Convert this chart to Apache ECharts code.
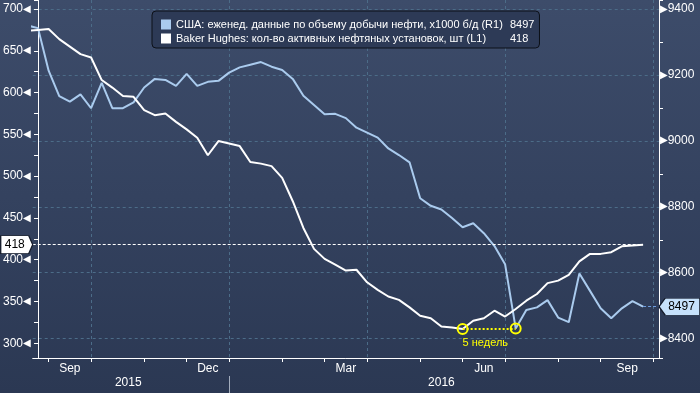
<!DOCTYPE html>
<html><head><meta charset="utf-8">
<script src="https://cdn.jsdelivr.net/npm/echarts@6/dist/echarts.min.js"></script>
<style>html,body{margin:0;padding:0;background:#2f3c58}#c{width:700px;height:393px}</style>
</head><body><div id="c"></div>
<script>
// ---------- data ----------
const axisStart = '2015-08-28';      // first weekly category on the axis
const nAxisWeeks = 59;               // weekly categories shown on the axis
const firstDataWeek = '2015-08-21';  // first data week (just left of the plot)
const monthNames = ['Jan','Feb','Mar','Apr','May','Jun','Jul','Aug','Sep','Oct','Nov','Dec'];
const labelMonths = [8, 11, 2, 5];   // Sep, Dec, Mar, Jun
const gridMonths = [0, 3, 6, 9];

const rigName = 'Baker Hughes: кол-во активных нефтяных установок, шт (L1)';
const prodName = 'США: еженед. данные по объему добычи нефти, x1000 б/д (R1)';

const rigCount = [674, 675, 676, 664, 655, 646, 642, 615, 606, 596, 595, 579, 573, 575, 565, 556, 546, 525,
  542, 539, 536, 517, 515, 512, 498, 470, 438, 413, 401, 394, 387, 388, 373, 364, 356, 352, 343, 333, 330,
  320, 319, 317, 327, 330, 339, 332, 341, 351, 359, 372, 375, 382, 398, 407, 407, 409, 416, 417, 418];

const usProduction = [9350, 9342, 9213, 9136, 9119, 9141, 9099, 9176, 9099, 9099, 9117, 9162, 9188, 9185,
  9167, 9203, 9167, 9179, 9182, 9207, 9223, 9231, 9239, 9225, 9215, 9188, 9137, 9109, 9081, 9082, 9069,
  9040, 9025, 9010, 8977, 8957, 8935, 8826, 8803, 8792, 8766, 8738, 8750, 8720, 8681, 8626, 8431, 8487,
  8495, 8517, 8464, 8450, 8598, 8545, 8492, 8462, 8492, 8514, 8497];

const rigAxisRange = [282.4, 710.8];
const prodAxisRange = [8341.4, 9427.3];
const gapWeeks = [40, 45];           // weekly positions of the two marked lows
const gapLabel = '5 недель';

// ---------- derived ----------
const DAY = 86400000;
const axisWeeks = Array.from({length: nAxisWeeks}, (_, i) => new Date(Date.parse(axisStart + 'T00:00:00Z') + 7 * i * DAY));
const dataOffset = Math.round((Date.parse(firstDataWeek) - Date.parse(axisStart)) / (7 * DAY));
const xMin = -0.5, xMax = nAxisWeeks - 0.5;
const nHalf = 2 * nAxisWeeks + 1;
const halfSteps = Array.from({length: nHalf}, (_, k) => k % 2 ? axisWeeks[(k - 1) / 2].toISOString().slice(0, 10) : 'h' + k);

const tickWeeks = [];
axisWeeks.forEach((d, w) => { if (d.getUTCDate() <= 7) tickWeeks.push(w); });
const tickK = new Set(tickWeeks.map(w => 2 * w + 1));
const gridK = new Set(tickWeeks.filter(w => gridMonths.includes(axisWeeks[w].getUTCMonth())).map(w => 2 * w + 1));
const monthLabelK = new Map();
for (let i = 0; i < tickWeeks.length - 1; i++) {
  const m = axisWeeks[tickWeeks[i]].getUTCMonth();
  if (labelMonths.includes(m)) monthLabelK.set(tickWeeks[i] + tickWeeks[i + 1] + 1, monthNames[m]);
}
const yearTickK = new Set(tickWeeks.filter(w => axisWeeks[w].getUTCMonth() === 0).map(w => 2 * w + 1));
const bounds = [0, ...[...yearTickK], nHalf - 1];
const yearLabelK = new Map();
for (let i = 0; i < bounds.length - 1; i++) {
  const yr = i === 0 ? axisWeeks[0].getUTCFullYear() : axisWeeks[(bounds[i] - 1) / 2].getUTCFullYear();
  yearLabelK.set(Math.floor((bounds[i] + bounds[i + 1]) / 2), String(yr));
}

const toXY = arr => arr.map((v, i) => [i + dataOffset, v]);
const lastIdx = rigCount.length - 1 + dataOffset;
const lastRig = rigCount[rigCount.length - 1];
const lastProd = usProduction[usProduction.length - 1];
const rigAt = w => rigCount[w - dataOffset];
const prodAt = w => usProduction[w - dataOffset];

const FONT = 'Liberation Sans';
const WHITE = '#ffffff';
const BLUE = '#aacbee';
const GRIDC = '#4c6c88';
const YEL = '#ffff00';

const chart = echarts.init(document.getElementById('c'), null, {renderer: 'canvas'});
chart.setOption({
  animation: false,
  backgroundColor: new echarts.graphic.LinearGradient(0, 0, 0, 1, [
    {offset: 0, color: '#3d4c6a'}, {offset: 0.5, color: '#34425f'}, {offset: 1, color: '#2b3853'}]),
  grid: {left: 32, right: 41, top: 0, bottom: 35},
  legend: {
    left: 152, top: 11, orient: 'vertical', icon: 'rect', itemWidth: 10, itemHeight: 10, itemGap: 1,
    padding: [7, 5, 3, 9], backgroundColor: '#2d3a56', borderColor: '#0c1018', borderWidth: 1, borderRadius: 4,
    data: [prodName, rigName], selectedMode: false,
    formatter: name => `{n|${name}}{v|${name === prodName ? lastProd : lastRig}}`,
    textStyle: {color: WHITE, fontFamily: FONT, fontSize: 11, lineHeight: 13,
      rich: {n: {width: 334, color: WHITE, fontFamily: FONT, fontSize: 11}, v: {color: WHITE, fontFamily: FONT, fontSize: 11}}}
  },
  xAxis: [
    {type: 'value', min: xMin, max: xMax, show: false},
    {type: 'category', data: halfSteps, boundaryGap: false, position: 'bottom',
      axisLine: {show: true, lineStyle: {color: WHITE, width: 1}},
      axisTick: {show: true, interval: i => tickK.has(i), length: 4, lineStyle: {color: WHITE}},
      axisLabel: {show: true, interval: i => monthLabelK.has(i), formatter: (v, i) => monthLabelK.get(i) || '',
        color: WHITE, fontFamily: FONT, fontSize: 12, margin: 5},
      splitLine: {show: true, interval: i => gridK.has(i), lineStyle: {color: GRIDC, type: [3, 3], width: 1}}},
    {type: 'category', data: halfSteps, boundaryGap: false, position: 'bottom', offset: 18,
      axisLine: {show: false},
      axisTick: {show: true, interval: i => yearTickK.has(i), length: 17, lineStyle: {color: '#a3adbd'}},
      axisLabel: {show: true, interval: i => yearLabelK.has(i), formatter: (v, i) => yearLabelK.get(i) || '',
        color: WHITE, fontFamily: FONT, fontSize: 12, margin: 1},
      splitLine: {show: false}}
  ],
  yAxis: [
    {type: 'value', position: 'left', min: rigAxisRange[0], max: rigAxisRange[1], splitNumber: 8,
      axisLine: {show: true, lineStyle: {color: WHITE}},
      axisTick: {show: true, length: 4, lineStyle: {color: WHITE}},
      minorTick: {show: true, splitNumber: 2, length: 4, lineStyle: {color: WHITE}},
      axisLabel: {showMinLabel: false, showMaxLabel: false, margin: 2,
        formatter: v => `{v|${v}}{t|◀}`,
        rich: {v: {color: WHITE, fontFamily: FONT, fontSize: 12}, t: {color: WHITE, fontFamily: 'DejaVu Sans', fontSize: 10}}},
      splitLine: {show: false}},
    {type: 'value', position: 'right', min: prodAxisRange[0], max: prodAxisRange[1], splitNumber: 5,
      axisLine: {show: true, lineStyle: {color: WHITE}},
      axisTick: {show: true, length: 4, lineStyle: {color: WHITE}},
      minorTick: {show: true, splitNumber: 2, length: 4, lineStyle: {color: WHITE}},
      axisLabel: {showMinLabel: false, showMaxLabel: false, margin: 1,
        formatter: v => `{t|▶}{v|${v}}`,
        rich: {v: {color: WHITE, fontFamily: FONT, fontSize: 12}, t: {color: WHITE, fontFamily: 'DejaVu Sans', fontSize: 10}}},
      splitLine: {show: true, showMinLine: false, showMaxLine: false, lineStyle: {color: GRIDC, type: [3, 3], width: 1}}}
  ],
  series: [
    {name: prodName, type: 'line', xAxisIndex: 0, yAxisIndex: 1, data: toXY(usProduction), showSymbol: false,
      lineStyle: {color: BLUE, width: 2}, itemStyle: {color: BLUE}, z: 3,
      markLine: {silent: true, symbol: 'none', label: {show: false},
        data: [[{coord: [lastIdx, lastProd], lineStyle: {color: '#6f9ee0', type: [3, 2], width: 1}}, {coord: [xMax, lastProd]}]]},
      markPoint: {silent: true, data: [
        {coord: [xMax, lastProd], symbol: 'path://M0,8 L6,0 L40,0 L40,16 L6,16 Z', symbolSize: [41, 17], symbolOffset: [20.5, 0],
          itemStyle: {color: '#c6e1fb', borderColor: '#141b2a', borderWidth: 1},
          label: {show: true, position: 'inside', formatter: String(lastProd), color: '#000', fontFamily: FONT, fontSize: 12, offset: [2, 0]}},
        {coord: [gapWeeks[1], prodAt(gapWeeks[1])], symbol: 'circle', symbolSize: 10,
          itemStyle: {color: 'rgba(0,0,0,0)', borderColor: YEL, borderWidth: 2}, label: {show: false}}
      ]}},
    {name: rigName, type: 'line', xAxisIndex: 0, yAxisIndex: 0, data: toXY(rigCount), showSymbol: false,
      lineStyle: {color: WHITE, width: 2}, itemStyle: {color: WHITE}, z: 4,
      markLine: {silent: true, symbol: 'none',
        data: [
          [{coord: [xMin, lastRig], lineStyle: {color: WHITE, type: [3, 2], width: 1}, label: {show: false}}, {coord: [lastIdx, lastRig]}],
          [{coord: [gapWeeks[0], rigAt(gapWeeks[0])], lineStyle: {color: YEL, type: [2, 2], width: 2},
            label: {show: true, position: 'insideStartBottom', formatter: gapLabel, color: YEL, fontFamily: FONT, fontSize: 11, distance: [0, 8]}},
           {coord: [gapWeeks[1], rigAt(gapWeeks[0])]}]
        ]},
      markPoint: {silent: true, data: [
        {coord: [xMin, lastRig], symbol: 'path://M0,0 L28,0 L32,9 L28,18 L0,18 Z', symbolSize: [32, 18], symbolOffset: [-16, 0],
          itemStyle: {color: '#ffffff', borderColor: '#141b2a', borderWidth: 1},
          label: {show: true, position: 'inside', formatter: String(lastRig), color: '#000', fontFamily: FONT, fontSize: 12, offset: [-2, 0]}},
        {coord: [gapWeeks[0], rigAt(gapWeeks[0])], symbol: 'circle', symbolSize: 10,
          itemStyle: {color: 'rgba(0,0,0,0)', borderColor: YEL, borderWidth: 2}, label: {show: false}}
      ]}}
  ]
});
</script></body></html>
